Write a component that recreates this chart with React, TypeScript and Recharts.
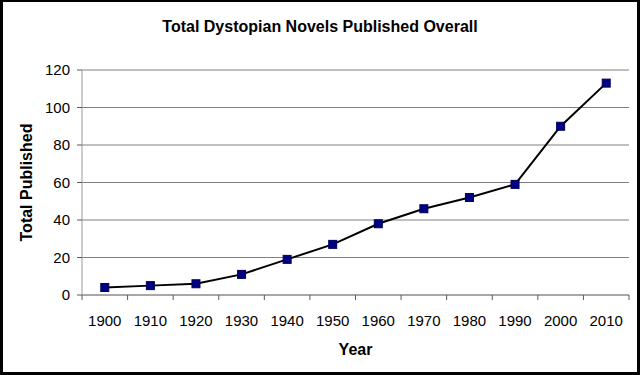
import React from 'react';
import { LineChart, Line, XAxis, YAxis, CartesianGrid } from 'recharts';

const years = ['1900', '1910', '1920', '1930', '1940', '1950', '1960', '1970', '1980', '1990', '2000', '2010'];
const totals = [4, 5, 6, 11, 19, 27, 38, 46, 52, 59, 90, 113];
const yTicks = [0, 20, 40, 60, 80, 100, 120];

const data = years.map((year, i) => ({ year, total: totals[i] }));

const FONT = '"Liberation Sans", Arial, sans-serif';

const SquareDot = (props: any) => {
  const { cx, cy } = props;
  if (cx == null || cy == null) return null;
  return <rect x={cx - 4} y={cy - 4} width={8} height={8} fill="#000080" stroke="#00005a" strokeWidth={1} />;
};

const YearTick = (props: any) => {
  const { x, y, payload, index, width, visibleTicksCount } = props;
  let half = Number(width) / Number(visibleTicksCount) / 2;
  if (!isFinite(half)) half = 22.8;
  const isLast = index === visibleTicksCount - 1;
  return (
    <g>
      <line x1={x - half} x2={x - half} y1={y} y2={y + 5} stroke="#5a5a5a" />
      {isLast && <line x1={x + half} x2={x + half} y1={y} y2={y + 5} stroke="#5a5a5a" />}
      <text x={x} y={y + 31} textAnchor="middle" fontSize={15} fill="#000" fontFamily={FONT}>
        {payload.value}
      </text>
    </g>
  );
};

export default function App() {
  return (
    <div style={{ position: 'absolute', left: 0, top: 0, width: 640, height: 375, background: '#fff', fontFamily: FONT }}>
      <div
        style={{
          position: 'absolute',
          left: 0,
          top: 17,
          width: 640,
          textAlign: 'center',
          fontSize: 16,
          lineHeight: '20px',
          fontWeight: 'bold',
          color: '#000',
          fontFamily: FONT,
        }}
      >
        Total Dystopian Novels Published Overall
      </div>
      <LineChart width={640} height={375} data={data} margin={{ top: 70, right: 11, left: 0, bottom: 0 }} style={{ fontFamily: FONT }}>
        <CartesianGrid vertical={false} stroke="#808080" strokeWidth={1} />
        <XAxis
          dataKey="year"
          scale="band"
          height={80}
          tickLine={false}
          tickSize={0}
          tickMargin={0}
          axisLine={{ stroke: '#909090' }}
          tick={<YearTick />}
          interval={0}
          label={{ value: 'Year', position: 'insideBottom', offset: 20, style: { fontSize: 16, fontWeight: 'bold', fill: '#000', fontFamily: FONT } }}
        />
        <YAxis
          domain={[0, 120]}
          ticks={yTicks}
          width={82}
          tickSize={5}
          tickMargin={7}
          axisLine={{ stroke: '#999' }}
          tickLine={{ stroke: '#5a5a5a' }}
          tick={{ fontSize: 15, fill: '#000', fontFamily: FONT }}
          label={{
            value: 'Total Published',
            angle: -90,
            position: 'insideLeft',
            offset: 26,
            style: { textAnchor: 'middle', fontSize: 16, fontWeight: 'bold', fill: '#000', fontFamily: FONT },
          }}
        />
        <YAxis yAxisId="r" orientation="right" width={0} tick={false} tickLine={false} axisLine={{ stroke: '#a0a0a0' }} />
        <Line
          type="linear"
          dataKey="total"
          stroke="#000"
          strokeWidth={2}
          dot={<SquareDot />}
          activeDot={false}
          isAnimationActive={false}
        />
      </LineChart>
      <div
        style={{
          position: 'absolute',
          left: 0,
          top: 0,
          width: 640,
          height: 375,
          boxSizing: 'border-box',
          borderStyle: 'solid',
          borderColor: '#000',
          borderWidth: '2px 3px 3px 3px',
          pointerEvents: 'none',
        }}
      />
    </div>
  );
}
